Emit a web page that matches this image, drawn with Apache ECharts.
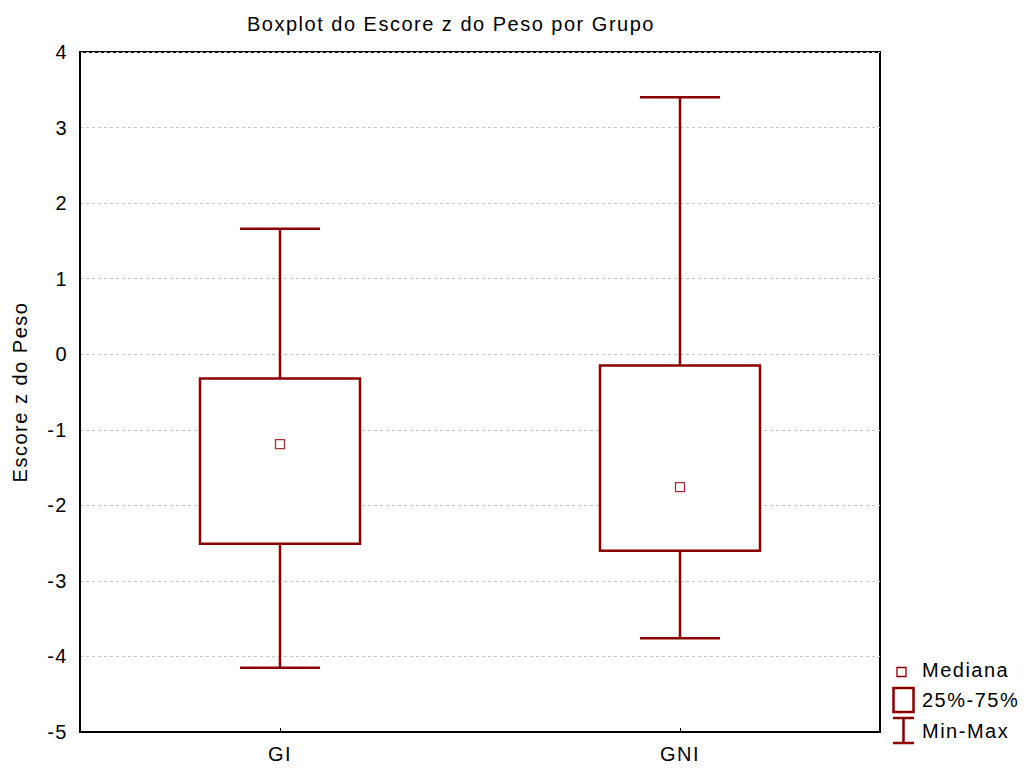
<!DOCTYPE html>
<html>
<head>
<meta charset="utf-8">
<script src="https://cdn.jsdelivr.net/npm/echarts@6/dist/echarts.min.js"></script>
<style>
  html, body { margin: 0; padding: 0; background: #fff; }
  #chart { width: 1030px; height: 769px; }
  #chart svg text { letter-spacing: 1.5px; }
</style>
</head>
<body>
<div id="chart"></div>
<script>
// ---- data ----
const categories = ['GI', 'GNI'];
const minValues = [-4.15, -3.76];
const q1Values = [-2.51, -2.60];
const medianValues = [-1.19, -1.76];
const q3Values = [-0.32, -0.15];
const maxValues = [1.66, 3.40];
const yTicks = [-5, -4, -3, -2, -1, 0, 1, 2, 3, 4];

const RED = '#8B0000';
const FONT = '"Liberation Sans", Arial, sans-serif';
const FS = 20;

const boxData = categories.map((c, i) => [i, minValues[i], q1Values[i], q3Values[i], maxValues[i]]);
const medData = categories.map((c, i) => [i, medianValues[i]]);

const chart = echarts.init(document.getElementById('chart'), null, { renderer: 'svg' });

chart.setOption({
  animation: false,
  backgroundColor: '#fff',
  title: {
    text: 'Boxplot do Escore z do Peso por Grupo',
    left: 242, top: 9,
    textStyle: { fontFamily: FONT, fontSize: FS, fontWeight: 'normal', color: '#000' }
  },
  grid: {
    left: 80, top: 52, width: 800, height: 680,
    show: true, borderColor: '#000', borderWidth: 2, backgroundColor: 'transparent'
  },
  xAxis: {
    type: 'category',
    data: categories,
    axisLine: { show: true, onZero: false, lineStyle: { color: '#000', width: 2 } },
    axisTick: { show: true, inside: true, alignWithLabel: true, length: 4, lineStyle: { color: '#000', width: 1 } },
    axisLabel: { fontFamily: FONT, fontSize: FS, color: '#000', margin: 12 },
    splitLine: { show: false }
  },
  yAxis: {
    type: 'value',
    min: yTicks[0], max: yTicks[yTicks.length - 1], interval: 1,
    name: 'Escore z do Peso',
    nameLocation: 'middle',
    nameRotate: 90,
    nameGap: 50,
    nameTextStyle: { fontFamily: FONT, fontSize: FS, color: '#000' },
    axisLine: { show: true, lineStyle: { color: '#000', width: 2 } },
    axisTick: { show: false },
    axisLabel: { fontFamily: FONT, fontSize: FS, color: '#000', margin: 12 },
    splitLine: { show: true, lineStyle: { color: '#c4c4c4', type: [3, 3], width: 1 } }
  },
  series: [
    {
      type: 'custom',
      data: boxData,
      encode: { x: 0, y: [1, 2, 3, 4] },
      z: 3,
      renderItem: function (params, api) {
        const idx = api.value(0);
        const pMin = api.coord([idx, api.value(1)]);
        const pQ1 = api.coord([idx, api.value(2)]);
        const pQ3 = api.coord([idx, api.value(3)]);
        const pMax = api.coord([idx, api.value(4)]);
        const band = api.size([1, 0])[0];
        const boxW = band * 0.4;
        const capW = band * 0.2;
        const cx = pQ1[0];
        const lineStyle = { stroke: RED, lineWidth: 2.5, fill: null };
        return {
          type: 'group',
          children: [
            { type: 'line', shape: { x1: cx, y1: pMax[1], x2: cx, y2: pQ3[1] }, style: lineStyle },
            { type: 'line', shape: { x1: cx, y1: pQ1[1], x2: cx, y2: pMin[1] }, style: lineStyle },
            { type: 'line', shape: { x1: cx - capW / 2, y1: pMax[1], x2: cx + capW / 2, y2: pMax[1] }, style: lineStyle },
            { type: 'line', shape: { x1: cx - capW / 2, y1: pMin[1], x2: cx + capW / 2, y2: pMin[1] }, style: lineStyle },
            { type: 'rect', shape: { x: cx - boxW / 2, y: pQ3[1], width: boxW, height: pQ1[1] - pQ3[1] },
              style: { fill: '#fff', stroke: RED, lineWidth: 2.5 } }
          ]
        };
      }
    },
    {
      type: 'scatter',
      data: medData,
      symbol: 'rect',
      symbolSize: 9,
      z: 4,
      itemStyle: { color: '#fff', borderColor: RED, borderWidth: 1.3 }
    }
  ],
  graphic: [
    { type: 'rect', shape: { x: 897, y: 667.5, width: 9, height: 9 }, style: { fill: '#fff', stroke: RED, lineWidth: 1.3 } },
    { type: 'text', x: 922, y: 670, style: { text: 'Mediana', font: FS + 'px ' + FONT, fill: '#000', textVerticalAlign: 'middle' } },
    { type: 'rect', shape: { x: 893.5, y: 688, width: 20, height: 24 }, style: { fill: '#fff', stroke: RED, lineWidth: 2.5 } },
    { type: 'text', x: 922, y: 700, style: { text: '25%-75%', font: FS + 'px ' + FONT, fill: '#000', textVerticalAlign: 'middle' } },
    { type: 'line', shape: { x1: 893, y1: 718, x2: 914, y2: 718 }, style: { stroke: RED, lineWidth: 2.5 } },
    { type: 'line', shape: { x1: 903.5, y1: 718, x2: 903.5, y2: 743 }, style: { stroke: RED, lineWidth: 2.5 } },
    { type: 'line', shape: { x1: 893, y1: 743, x2: 914, y2: 743 }, style: { stroke: RED, lineWidth: 2.5 } },
    { type: 'text', x: 922, y: 731, style: { text: 'Min-Max', font: FS + 'px ' + FONT, fill: '#000', textVerticalAlign: 'middle' } }
  ]
});
</script>
</body>
</html>
